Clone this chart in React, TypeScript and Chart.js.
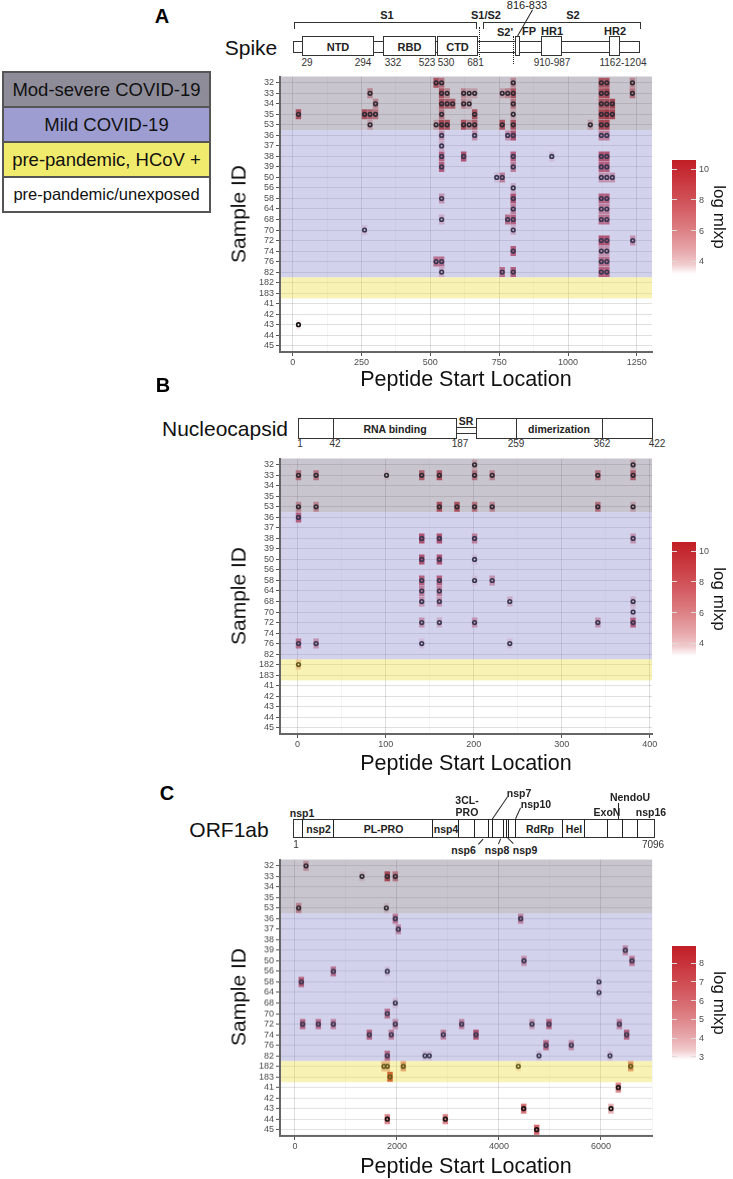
import React, { useEffect, useRef } from 'react';
import { Chart, registerables } from 'chart.js';
Chart.register(...registerables);

const FONT = '"Liberation Sans", Arial, sans-serif';

// ---------- data ----------
const sampleIds = ['32','33','34','35','53','36','37','38','39','50','56','58','64','68','70','72','74','76','82','182','183','41','42','43','44','45'];
const modSevere = ['32','33','34','35','53'];
const mild = ['36','37','38','39','50','56','58','64','68','70','72','74','76','82'];
const hcovPos = ['182','183'];
const unexposed = ['41','42','43','44','45'];
const groupLabels = ['Mod-severe COVID-19', 'Mild COVID-19', 'pre-pandemic, HCoV +', 'pre-pandemic/unexposed'];

// [sample, peptide start, log mlxp]
const spikeHits: [string, number, number][] = [
  ['32',521,8],['32',541,6],['32',801,5],['32',1121,8],['32',1141,8],['32',1234,5],
  ['33',281,5],['33',541,8],['33',561,5],['33',621,5],['33',641,4],['33',661,4],['33',761,4],['33',781,5],['33',801,8],['33',1121,8],['33',1141,9],['33',1234,6],
  ['34',301,5],['34',541,8],['34',561,7],['34',581,7],['34',621,5],['34',641,4],['34',801,6],['34',1121,8],['34',1141,8],['34',1161,9],
  ['35',21,8],['35',261,8],['35',281,7],['35',301,6],['35',541,6],['35',661,8],['35',801,4],['35',1121,9],['35',1141,10],['35',1161,9],
  ['53',281,4],['53',521,4],['53',541,9],['53',561,8],['53',621,8],['53',641,5],['53',661,7],['53',761,8],['53',801,8],['53',1081,4],['53',1121,9],['53',1141,9],
  ['36',541,5],['36',661,5],['36',781,5],['36',801,9],['36',1121,6],['36',1141,6],
  ['37',541,4],
  ['38',541,8],['38',621,9],['38',801,8],['38',941,3.5],['38',1121,9],['38',1141,9],
  ['39',541,8],['39',801,6],['39',1121,8],['39',1141,8],
  ['50',741,3.5],['50',761,6],['50',1121,5],['50',1141,5],['50',1161,5],
  ['56',801,4],
  ['58',541,5],['58',801,9],['58',1121,8],['58',1141,8],
  ['64',801,6],['64',1121,6],['64',1141,6],
  ['68',541,4],['68',781,7],['68',801,8],['68',1121,7],['68',1141,7],
  ['70',261,3.5],['70',801,4],
  ['72',1121,9],['72',1141,9],['72',1235,5],
  ['74',801,8],['74',1121,5],['74',1141,5],
  ['76',521,7],['76',541,7],['76',1121,7],['76',1141,7],
  ['82',541,4],['82',761,7],['82',801,8],['82',1121,8],['82',1141,8],
  ['43',21,3.3],
];

const nucleoHits: [string, number, number][] = [
  ['32',201,4],['32',381,4],
  ['33',1,6],['33',21,6],['33',101,3.4],['33',141,7],['33',161,8],['33',201,6],['33',221,5],['33',341,6],['33',381,7],
  ['53',1,5],['53',21,5],['53',161,8],['53',181,8],['53',201,6],['53',221,5],['53',341,6],['53',381,4],
  ['36',1,8],
  ['38',141,9],['38',161,9],['38',201,6],['38',381,5],
  ['50',141,9],['50',161,9],['50',201,3.5],
  ['58',141,8],['58',161,8],['58',201,3.5],['58',221,5],
  ['64',141,6],['64',161,6],
  ['68',141,5],['68',161,5],['68',241,4],['68',381,4],
  ['70',381,3.5],
  ['72',141,5],['72',161,4],['72',201,5],['72',341,5],['72',381,8],
  ['76',1,7],['76',21,5],['76',141,3.5],['76',241,3.5],
  ['182',1,4],
];

const orfHits: [string, number, number][] = [
  ['32',216,4],
  ['33',1314,3],['33',1810,7.5],['33',1967,5],
  ['53',72,4.5],['53',1791,3],
  ['36',1967,5.5],['36',4425,5],
  ['37',2026,4.5],
  ['39',6477,4.5],
  ['50',4490,4.5],['50',6608,5.5],
  ['56',752,5.5],['56',1810,3],
  ['58',124,7],['58',5961,3],
  ['64',5961,3],
  ['68',1967,3.2],
  ['70',1810,5.5],
  ['72',150,6.5],['72',458,6],['72',752,5],['72',1967,4.5],['72',3268,5],['72',4647,4],['72',4980,6.5],['72',6360,5],
  ['74',1458,6.5],['74',1889,5],['74',2908,5],['74',3549,7.5],['74',6503,6.5],
  ['76',4922,6.5],['76',5418,4.5],
  ['82',1810,6],['82',2549,3],['82',2634,3],['82',4784,3],['82',6176,3],
  ['182',1745,4],['182',1810,4],['182',2124,5],['182',4379,3],['182',6582,5.5],
  ['183',1863,8.5],
  ['41',6340,5],
  ['43',4484,5.5],['43',6196,3.8],
  ['44',1810,5],['44',2948,5],
  ['45',4739,6],
];

const spikeXTicks = [0, 250, 500, 750, 1000, 1250];
const nucleoXTicks = [0, 100, 200, 300, 400];
const orfXTicks = [0, 2000, 4000, 6000];
const spikeColorTicks = [4, 6, 8, 10];
const nucleoColorTicks = [4, 6, 8, 10];
const orfColorTicks = [3, 4, 5, 6, 7, 8];

// ---------- styling helpers ----------
const RED = [194, 30, 38];
function heat(v: number, vMin: number, vMax: number, a = 1) {
  let t = (v - vMin) / (vMax - vMin);
  t = Math.max(0, Math.min(1, t));
  t = Math.pow(t, 0.6);
  const c = RED.map((k) => Math.round(255 + (k - 255) * t));
  return `rgba(${c[0]},${c[1]},${c[2]},${a})`;
}

const bandDefs: [string[], string][] = [
  [modSevere, 'rgba(96,90,116,0.35)'],
  [mild, 'rgba(126,126,204,0.35)'],
  [hcovPos, 'rgba(235,221,46,0.36)'],
  [unexposed, 'rgba(255,255,255,0)'],
];

const bandPlugin = {
  id: 'bands',
  afterDatasetsDraw(chart: any) {
    const { ctx, chartArea: a, scales } = chart;
    const y = scales.y;
    ctx.save();
    for (const [grp, col] of bandDefs) {
      const i0 = sampleIds.indexOf(grp[0]);
      const i1 = sampleIds.indexOf(grp[grp.length - 1]);
      const y0 = i0 === 0 ? a.top : y.getPixelForValue(i0 - 0.5);
      const y1 = i1 === sampleIds.length - 1 ? a.bottom : y.getPixelForValue(i1 + 0.5);
      ctx.fillStyle = col;
      ctx.fillRect(a.left, y0, a.right - a.left, y1 - y0);
    }
    ctx.restore();
  },
};

type PanelProps = {
  top: number; bottom: number; hits: [string, number, number][];
  xMin: number; xMax: number; majors: number[]; vMin: number; vMax: number;
};

function HitPanel({ top, bottom, hits, xMin, xMax, majors, vMin, vMax }: PanelProps) {
  const ref = useRef<HTMLCanvasElement>(null);
  const W = 553;
  const H = bottom - top + 35;
  useEffect(() => {
    const step = (majors[1] - majors[0]) / 2;
    const gridVals: number[] = [];
    for (let v = majors[0]; v <= xMax + 1e-9; v += step) gridVals.push(v);
    const pts = hits.map(([s, x, v]) => ({ x, y: sampleIds.indexOf(s), v }));
    const isMajor = (v: number) => majors.includes(v);
    const chart = new Chart(ref.current as HTMLCanvasElement, {
      type: 'scatter',
      data: {
        datasets: [
          {
            data: pts as any,
            pointStyle: 'circle',
            pointRadius: 1.8,
            pointBorderWidth: 1.6,
            pointBorderColor: '#111',
            pointBackgroundColor: 'rgba(0,0,0,0)',
          },
          {
            data: pts as any,
            pointStyle: 'line',
            pointRotation: 90,
            pointRadius: 5,
            pointBorderWidth: 5.5,
            pointBorderColor: pts.map((p) => heat(p.v, vMin, vMax)),
          },
        ],
      },
      options: {
        animation: false,
        responsive: false,
        events: [],
        layout: { padding: { top: 10, right: 81, left: 0, bottom: 0 } },
        plugins: { legend: { display: false }, tooltip: { enabled: false } },
        scales: {
          x: {
            type: 'linear', min: xMin, max: xMax,
            afterBuildTicks: (s: any) => { s.ticks = gridVals.map((v) => ({ value: v })); },
            afterFit: (s: any) => { s.height = 25; },
            ticks: {
              autoSkip: false, maxRotation: 0, minRotation: 0, padding: 1, color: '#4d4d4d',
              font: { family: FONT, size: 9 },
              callback: (v: any) => (isMajor(Number(v)) ? String(v) : ''),
            },
            grid: {
              color: (c: any) => (isMajor(c.tick.value) ? 'rgba(0,0,0,0.13)' : 'rgba(0,0,0,0.04)'),
              lineWidth: 1,
              tickLength: 4,
              tickColor: (c: any) => (isMajor(c.tick.value) ? '#555' : 'rgba(0,0,0,0)'),
            },
            border: { display: true, color: '#666', width: 2, z: 1 },
          },
          y: {
            type: 'linear', min: -0.6, max: sampleIds.length - 0.4, reverse: true,
            afterBuildTicks: (s: any) => { s.ticks = sampleIds.map((_, i) => ({ value: i })); },
            afterFit: (s: any) => { s.width = 100; },
            ticks: {
              autoSkip: false, padding: 2, color: '#4d4d4d',
              font: { family: FONT, size: 9 },
              callback: (v: any) => sampleIds[Number(v)] ?? '',
            },
            grid: { color: 'rgba(0,0,0,0.12)', lineWidth: 1, tickLength: 4, tickColor: '#555' },
            border: { display: true, color: '#666', width: 2, z: 1 },
          },
        },
      } as any,
      plugins: [bandPlugin],
    });
    return () => chart.destroy();
  }, []);
  return (
    <canvas ref={ref} width={W} height={H}
      style={{ position: 'absolute', left: 180, top: top - 10, width: W, height: H }} />
  );
}

// ---------- html helpers ----------
type TP = { x: number; y: number; s: string; size?: number; bold?: boolean; color?: string; rot?: number };
const T = ({ x, y, s, size = 10, bold = false, color = '#222', rot = 0 }: TP) => (
  <div style={{
    position: 'absolute', left: x, top: y, transform: `translate(-50%,-50%) rotate(${rot}deg)`,
    fontSize: size, fontWeight: bold ? 'bold' : 'normal', color, whiteSpace: 'nowrap', lineHeight: 1, fontFamily: FONT,
  }}>{s}</div>
);

const Box = ({ x, y, w, h, sides }: { x: number; y: number; w: number; h: number; sides?: string }) => {
  const b = '1px solid #333';
  const st: any = { position: 'absolute', left: x, top: y, width: w, height: h, boxSizing: 'border-box', background: sides ? 'transparent' : '#fff' };
  if (!sides) st.border = b;
  else for (const c of sides) st[{ t: 'borderTop', b: 'borderBottom', l: 'borderLeft', r: 'borderRight' }[c] as string] = b;
  return <div style={st} />;
};

const Seg = ({ x1, y1, x2, y2, dotted = false }: { x1: number; y1: number; x2: number; y2: number; dotted?: boolean }) => {
  const dx = x2 - x1, dy = y2 - y1;
  const len = Math.hypot(dx, dy);
  const ang = (Math.atan2(dy, dx) * 180) / Math.PI;
  return <div style={{
    position: 'absolute', left: x1, top: y1, width: len, height: 0,
    borderTop: `1px ${dotted ? 'dotted' : 'solid'} #222`, transform: `rotate(${ang}deg)`, transformOrigin: '0 0',
  }} />;
};

function ColorBar({ top, vMin, vMax, ppu, ticks }: { top: number; vMin: number; vMax: number; ppu: number; ticks: number[] }) {
  const h = (vMax - vMin) * ppu;
  const stops: string[] = [];
  for (let i = 0; i <= 12; i++) {
    const v = vMax - ((vMax - vMin) * i) / 12;
    stops.push(`${heat(v, vMin, vMax)} ${(i / 12) * 100}%`);
  }
  return (
    <>
      <div style={{ position: 'absolute', left: 672, top, width: 24, height: h, background: `linear-gradient(to bottom, ${stops.join(',')})` }} />
      {ticks.map((t) => {
        const y = top + (vMax - t) * ppu;
        return (
          <React.Fragment key={t}>
            <div style={{ position: 'absolute', left: 672, top: y - 0.5, width: 5, height: 1, background: '#ddd' }} />
            <div style={{ position: 'absolute', left: 691, top: y - 0.5, width: 5, height: 1, background: '#ddd' }} />
            <div style={{ position: 'absolute', left: 699, top: y - 5, fontSize: 9, lineHeight: '10px', color: '#4d4d4d', fontFamily: FONT }}>{t}</div>
          </React.Fragment>
        );
      })}
      <T x={719} y={top + h / 2} s="log mlxp" size={17} rot={90} color="#111" />
    </>
  );
}

const legendColors = ['#8e8c99', '#9d9dd2', '#f1eb6d', '#ffffff'];
const legendSizes = [18.5, 18.5, 18.5, 16.5];

export default function App() {
  const plotMidX = 466;
  return (
    <div style={{ position: 'absolute', left: 0, top: 0, width: 733, height: 1179, background: '#fff', fontFamily: FONT, overflow: 'hidden' }}>
      {/* legend */}
      {groupLabels.map((g, i) => (
        <div key={g} style={{
          position: 'absolute', left: 2, top: 71 + i * 35, width: 209, height: 37, boxSizing: 'border-box',
          border: '2px solid #555', background: legendColors[i], display: 'flex', alignItems: 'center', justifyContent: 'center',
          fontSize: legendSizes[i], color: '#111', fontFamily: FONT, whiteSpace: 'nowrap',
        }}>{g}</div>
      ))}

      {/* ---------- Panel A ---------- */}
      <T x={162} y={16} s="A" size={20} bold color="#000" />
      <T x={251} y={47} s="Spike" size={21} color="#111" />
      <Box x={294} y={22} w={183} h={7} sides="tlr" />
      <Box x={483} y={22} w={158} h={7} sides="tlr" />
      <T x={387} y={15} s="S1" size={11} bold />
      <T x={486} y={15} s="S1/S2" size={11} bold />
      <T x={573} y={15} s="S2" size={11} bold />
      <T x={527} y={5} s="816-833" size={11} />
      <Seg x1={532.5} y1={10} x2={517} y2={37} />
      <T x={505} y={32} s="S2'" size={11} bold />
      <T x={529} y={31} s="FP" size={11} bold />
      <T x={552} y={31} s="HR1" size={11} bold />
      <T x={615} y={31} s="HR2" size={11} bold />
      <Box x={293} y={41} w={347} h={12} />
      <Box x={302} y={36} w={72} h={20} />
      <Box x={383} y={36} w={53} h={20} />
      <Box x={437} y={36} w={41} h={20} />
      <Box x={515} y={36} w={5} h={20} />
      <Box x={541} y={36} w={21} h={20} />
      <Box x={609} y={36} w={11} h={20} />
      <T x={338} y={46.5} s="NTD" size={11} bold />
      <T x={409.5} y={46.5} s="RBD" size={11} bold />
      <T x={457.5} y={46.5} s="CTD" size={11} bold />
      <Seg x1={479.5} y1={27} x2={479.5} y2={57} dotted />
      <Seg x1={514} y1={36} x2={514} y2={64} dotted />
      <T x={307} y={63} s="29" size={10} color="#333" />
      <T x={363} y={63} s="294" size={10} color="#333" />
      <T x={393} y={63} s="332" size={10} color="#333" />
      <T x={427} y={63} s="523" size={10} color="#333" />
      <T x={446} y={63} s="530" size={10} color="#333" />
      <T x={475.5} y={63} s="681" size={10} color="#333" />
      <T x={552} y={63} s="910-987" size={10} color="#333" />
      <T x={623} y={63} s="1162-1204" size={10} color="#333" />

      <HitPanel top={76} bottom={352} hits={spikeHits} xMin={-46} xMax={1305} majors={spikeXTicks} vMin={3.2} vMax={10.6} />
      <T x={238} y={214} s="Sample ID" size={21} rot={-90} color="#111" />
      <T x={plotMidX} y={380} s="Peptide Start Location" size={21.5} color="#111" />
      <ColorBar top={160} vMin={3.2} vMax={10.6} ppu={15.35} ticks={spikeColorTicks} />

      {/* ---------- Panel B ---------- */}
      <T x={163} y={385} s="B" size={20} bold color="#000" />
      <T x={225} y={428} s="Nucleocapsid" size={21} color="#111" />
      <Box x={298} y={418} w={36} h={21} />
      <Box x={333} y={418} w={124} h={21} />
      <Box x={456} y={426.5} w={21} h={7.5} sides="tb" />
      <Box x={476} y={418} w={41} h={21} />
      <Box x={516} y={418} w={87} h={21} />
      <Box x={602} y={418} w={51} h={21} />
      <T x={395} y={428.5} s="RNA binding" size={10.5} bold />
      <T x={466} y={421} s="SR" size={10.5} bold />
      <T x={559} y={428.5} s="dimerization" size={10.5} bold />
      <T x={300} y={444} s="1" size={10} color="#333" />
      <T x={335} y={444} s="42" size={10} color="#333" />
      <T x={460} y={444} s="187" size={10} color="#333" />
      <T x={516} y={444} s="259" size={10} color="#333" />
      <T x={602} y={444} s="362" size={10} color="#333" />
      <T x={657} y={444} s="422" size={10} color="#333" />

      <HitPanel top={458} bottom={734} hits={nucleoHits} xMin={-20} xMax={402.5} majors={nucleoXTicks} vMin={3.2} vMax={10.6} />
      <T x={238} y={596} s="Sample ID" size={21} rot={-90} color="#111" />
      <T x={plotMidX} y={764} s="Peptide Start Location" size={21.5} color="#111" />
      <ColorBar top={542} vMin={3.2} vMax={10.6} ppu={15.35} ticks={nucleoColorTicks} />

      {/* ---------- Panel C ---------- */}
      <T x={167} y={793} s="C" size={20} bold color="#000" />
      <T x={229} y={829} s="ORF1ab" size={21} color="#111" />
      <Box x={293} y={819} w={362} h={19} />
      {[302.7, 334.3, 433.3, 459, 475, 489, 493.3, 504.3, 507.3, 509.3, 516, 563.3, 585, 607.7, 623.3, 637.7].map((x) => (
        <Seg key={x} x1={x} y1={819} x2={x} y2={838} />
      ))}
      <T x={318.5} y={829} s="nsp2" size={10.5} bold />
      <T x={383.5} y={829} s="PL-PRO" size={10.5} bold />
      <T x={446} y={829} s="nsp4" size={10.5} bold />
      <T x={540} y={829} s="RdRp" size={10.5} bold />
      <T x={574} y={829} s="Hel" size={10.5} bold />
      <T x={302} y={812.5} s="nsp1" size={10.5} bold />
      <T x={467} y={800} s="3CL-" size={10.5} bold />
      <T x={467} y={812} s="PRO" size={10.5} bold />
      <T x={519} y={792.5} s="nsp7" size={10.5} bold />
      <T x={536} y={803.5} s="nsp10" size={10.5} bold />
      <T x={630} y={796.5} s="NendoU" size={10.5} bold />
      <T x={607} y={812} s="ExoN" size={10.5} bold />
      <T x={651} y={812} s="nsp16" size={10.5} bold />
      <Seg x1={508.3} y1={797} x2={493.3} y2={819} />
      <Seg x1={521} y1={808} x2={516} y2={819} />
      <Seg x1={619.3} y1={803} x2={619.3} y2={819} />
      <T x={463.5} y={850} s="nsp6" size={10.5} bold />
      <T x={497} y={850} s="nsp8" size={10.5} bold />
      <T x={525} y={850} s="nsp9" size={10.5} bold />
      <Seg x1={478.3} y1={843.5} x2={483.3} y2={838} />
      <Seg x1={498.3} y1={844} x2={500.7} y2={838} />
      <Seg x1={513.3} y1={844} x2={507.3} y2={838} />
      <T x={296} y={845} s="1" size={10} color="#333" />
      <T x={653} y={845} s="7096" size={10} color="#333" />

      <HitPanel top={858.7} bottom={1135.6} hits={orfHits} xMin={-294} xMax={7000} majors={orfXTicks} vMin={2.8} vMax={8.9} />
      <T x={238} y={997} s="Sample ID" size={21} rot={-90} color="#111" />
      <T x={plotMidX} y={1167} s="Peptide Start Location" size={21.5} color="#111" />
      <ColorBar top={946.4} vMin={2.8} vMax={8.9} ppu={18.7} ticks={orfColorTicks} />
    </div>
  );
}
